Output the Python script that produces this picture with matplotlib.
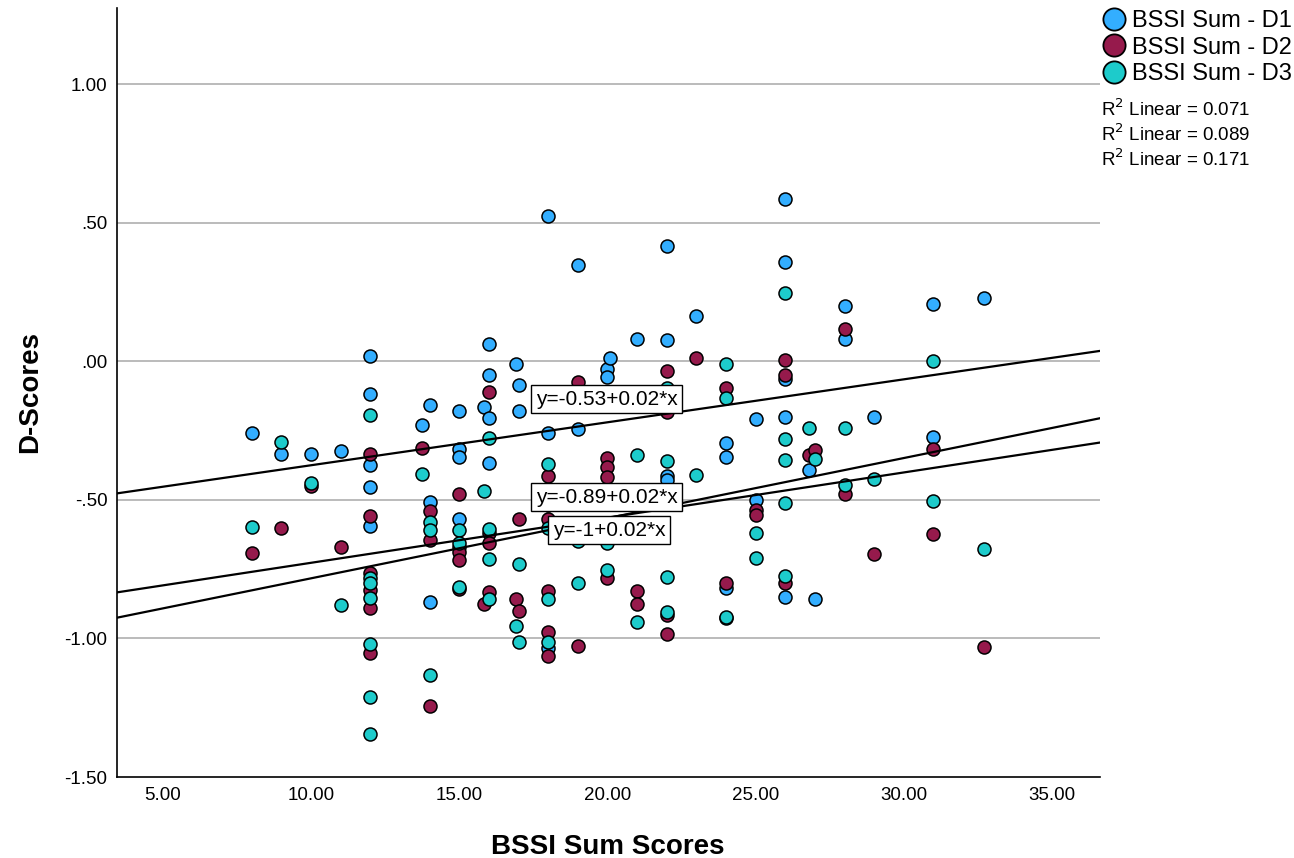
"""Scatter of D-scores against BSSI sum scores with linear fits."""

import matplotlib

matplotlib.use("Agg")
import matplotlib.pyplot as plt
from matplotlib.lines import Line2D

plt.rcParams["font.family"] = ["Liberation Sans", "DejaVu Sans"]

series_names = ["BSSI Sum - D1", "BSSI Sum - D2", "BSSI Sum - D3"]
colors = ["#33AEFF", "#961A4C", "#1DCBCB"]

d1_x = [8, 9, 10, 11, 12, 12, 12, 12, 12, 13.75, 14, 14, 14, 15, 15, 15, 15, 15.85,
        16, 16, 16, 16, 16.9, 17, 17, 18, 18, 18, 19, 19, 20, 20, 20.1, 21,
        22, 22, 22, 22, 23, 24, 24, 24, 24, 25, 25, 26, 26, 26, 26, 26,
        26.8, 27, 28, 28, 29, 31, 31, 32.7]
d1_y = [-0.26, -0.335, -0.335, -0.324, 0.02, -0.117, -0.374, -0.455, -0.593, -0.23,
        -0.158, -0.507, -0.868, -0.178, -0.317, -0.344, -0.57, -0.164,
        0.061, -0.048, -0.206, -0.366, -0.011, -0.086, -0.178, 0.524, -0.257, -1.035,
        0.347, -0.245, -0.026, -0.055, 0.011, 0.082,
        0.416, 0.076, -0.414, -0.43, 0.164, -0.293, -0.344, -0.819, -0.925,
        -0.209, -0.501, 0.585, 0.359, -0.065, -0.2, -0.852,
        -0.393, -0.858, 0.199, 0.079, -0.2, 0.206, -0.272, 0.227]

d2_x = [8, 9, 10, 11, 12, 12, 12, 12, 12, 12, 13.75, 14, 14, 14, 15, 15, 15, 15, 15,
        15.85, 16, 16, 16, 16, 16.9, 17, 17, 18, 18, 18, 18, 18, 19, 19, 19,
        20, 20, 20, 20, 21, 21, 22, 22, 22, 22, 23, 24, 24, 25, 25, 26, 26, 26,
        26.8, 27, 28, 28, 29, 31, 31, 32.7]
d2_y = [-0.692, -0.602, -0.45, -0.669, -0.333, -0.558, -0.765, -0.825, -0.891, -1.052,
        -0.312, -0.54, -0.645, -1.243, -0.48, -0.669, -0.687, -0.717, -0.823,
        -0.876, -0.112, -0.62, -0.657, -0.834, -0.859, -0.57, -0.901,
        -0.413, -0.57, -0.828, -0.976, -1.062, -0.074, -0.152, -1.027,
        -0.35, -0.38, -0.417, -0.783, -0.828, -0.876, -0.035, -0.182, -0.916, -0.985,
        0.011, -0.095, -0.801, -0.537, -0.555, 0.006, -0.05, -0.801,
        -0.338, -0.32, 0.116, -0.48, -0.695, -0.318, -0.623, -1.032]

d3_x = [8, 9, 10, 11, 12, 12, 12, 12, 12, 12, 12, 13.75, 14, 14, 14, 15, 15, 15,
        15.85, 16, 16, 16, 16, 16.9, 17, 17, 18, 18, 18, 18, 18, 19, 19, 19,
        20, 20, 20, 21, 21, 22, 22, 22, 22, 23, 24, 24, 24, 25, 25,
        26, 26, 26, 26, 26, 26.8, 27, 28, 28, 29, 31, 31, 32.7]
d3_y = [-0.598, -0.291, -0.44, -0.88, -0.192, -0.783, -0.801, -0.853, -1.02, -1.213, -1.346,
        -0.407, -0.579, -0.609, -1.132, -0.609, -0.657, -0.813,
        -0.467, -0.278, -0.606, -0.715, -0.859, -0.955, -0.732, -1.013,
        -0.371, -0.52, -0.6, -0.859, -1.014, -0.12, -0.65, -0.799,
        -0.63, -0.657, -0.753, -0.338, -0.942, -0.098, -0.36, -0.777, -0.904,
        -0.411, -0.008, -0.132, -0.921, -0.621, -0.709,
        0.247, -0.282, -0.356, -0.51, -0.774, -0.24, -0.354, -0.24, -0.447,
        -0.426, 0.0, -0.504, -0.679]

# fitted lines as drawn (intercept, slope) and their labels
fit_intercepts = [-0.53, -0.89, -1.0]
fit_slopes = [0.0155, 0.0163, 0.0217]
fit_labels = ["y=-0.53+0.02*x", "y=-0.89+0.02*x", "y=-1+0.02*x"]
label_pos = [(19.98, -0.136), (19.98, -0.490), (20.05, -0.609)]
r2_values = [0.071, 0.089, 0.171]

x_ticks = [5, 10, 15, 20, 25, 30, 35]
x_tick_labels = ["5.00", "10.00", "15.00", "20.00", "25.00", "30.00", "35.00"]
y_ticks = [-1.5, -1.0, -0.5, 0.0, 0.5, 1.0]
y_tick_labels = ["-1.50", "-1.00", "-.50", ".00", ".50", "1.00"]

fig = plt.figure(figsize=(12.94, 8.58), dpi=100)
ax = fig.add_axes([117 / 1294, 1 - 777 / 858, (1100 - 117) / 1294, (777 - 8) / 858])

xlim = (3.45, 36.62)
ax.set_xlim(*xlim)
ax.set_ylim(-1.5, 1.275)

for y in y_ticks[1:]:
    ax.axhline(y, color="#BBBBBB", lw=1.4, zorder=0)

all_x = [d1_x, d2_x, d3_x]
all_y = [d1_y, d2_y, d3_y]
for xs, ys, c in zip(all_x, all_y, colors):
    ax.scatter(xs, ys, s=88, color=c, edgecolor="black", linewidth=1.1, zorder=3)

for b, m in zip(fit_intercepts, fit_slopes):
    ax.plot(xlim, [b + m * xlim[0], b + m * xlim[1]], color="black", lw=1.6, zorder=4)

for txt, (lx, ly) in zip(fit_labels, label_pos):
    ax.text(lx, ly, txt, fontsize=15, ha="center", va="center", zorder=5,
            bbox=dict(boxstyle="square,pad=0.22", fc="white", ec="black", lw=1))

ax.set_xticks(x_ticks)
ax.set_xticklabels(x_tick_labels)
ax.set_yticks(y_ticks)
ax.set_yticklabels(y_tick_labels)
ax.tick_params(length=0, labelsize=13.5, pad=7)
for side in ["top", "right"]:
    ax.spines[side].set_visible(False)
for side in ["left", "bottom"]:
    ax.spines[side].set_linewidth(1.2)

fig.text(608 / 1294, 1 - 847 / 858, "BSSI Sum Scores", fontsize=20, fontweight="bold",
         ha="center", va="center")
fig.text(30 / 1294, 1 - 392 / 858, "D-Scores", fontsize=20, fontweight="bold",
         ha="center", va="center", rotation=90)

handles = [Line2D([], [], marker="o", ls="", markersize=16, markerfacecolor=c,
                  markeredgecolor="black", markeredgewidth=1.3) for c in colors]
fig.legend(handles, series_names, loc="upper left", bbox_to_anchor=(1105 / 1294, 1 - 10 / 858),
           frameon=False, fontsize=17, handlelength=0.8, handletextpad=0.35,
           labelspacing=0.2, borderaxespad=0, borderpad=0)

for i, r2 in enumerate(r2_values):
    fig.text(1101 / 1294, 1 - (109 + 25 * i) / 858, f"R$^2$ Linear = {r2:.3f}",
             fontsize=13.5, ha="left", va="center")

fig.savefig("out.png", dpi=100)
